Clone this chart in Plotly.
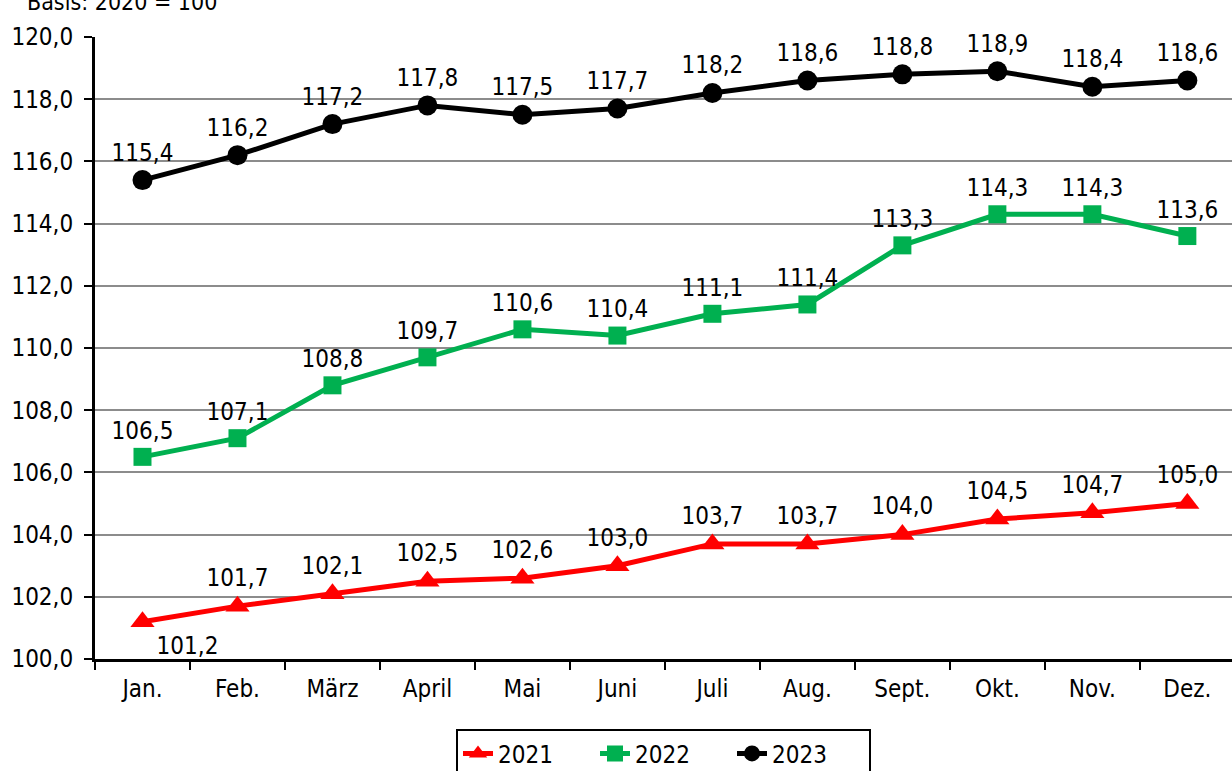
import plotly.graph_objects as go

months = ["Jan.", "Feb.", "März", "April", "Mai", "Juni", "Juli", "Aug.", "Sept.", "Okt.", "Nov.", "Dez."]
v2021 = [101.2, 101.7, 102.1, 102.5, 102.6, 103.0, 103.7, 103.7, 104.0, 104.5, 104.7, 105.0]
v2022 = [106.5, 107.1, 108.8, 109.7, 110.6, 110.4, 111.1, 111.4, 113.3, 114.3, 114.3, 113.6]
v2023 = [115.4, 116.2, 117.2, 117.8, 117.5, 117.7, 118.2, 118.6, 118.8, 118.9, 118.4, 118.6]

FONT = "DejaVu Sans Condensed, Noto Sans, sans-serif"
FS = 24

def fmt(v):
    return f"{v:.1f}".replace(".", ",")

fig = go.Figure()

pos2021 = ["bottom right"] + ["top center"] * 11
series = [
    ("2021", v2021, "#FF0000", "triangle-up", 21, pos2021),
    ("2022", v2022, "#00B050", "square", 18, "top center"),
    ("2023", v2023, "#000000", "circle", 20, "top center"),
]
for name, vals, color, sym, size, tpos in series:
    fig.add_trace(go.Scatter(
        x=months, y=vals, name=name, mode="lines+markers+text",
        line=dict(color=color, width=5),
        marker=dict(symbol=sym, size=size, color=color),
        text=[fmt(v) for v in vals], textposition=tpos,
        textfont=dict(size=FS, color="#000000", family=FONT),
        cliponaxis=False,
    ))

fig.update_layout(
    width=1232, height=771,
    margin=dict(l=95, r=0, t=37, b=112, autoexpand=False),
    plot_bgcolor="white", paper_bgcolor="white",
    separators=",.",
    font=dict(family=FONT, size=FS, color="#000000"),
    showlegend=True,
    legend=dict(
        orientation="h", x=0.5, xanchor="center", y=-0.113, yanchor="top",
        bordercolor="#000000", borderwidth=2,
        font=dict(size=FS, family=FONT),
        entrywidth=92, entrywidthmode="pixels",
    ),
    annotations=[dict(
        text="Basis: 2020 = 100", x=0, xref="paper", xanchor="left",
        xshift=-70, y=1, yref="paper", yshift=35, yanchor="middle",
        showarrow=False, font=dict(size=FS - 1, family=FONT),
    )],
)

fig.update_xaxes(
    type="category", range=[-0.5, 11.47],
    showline=True, linecolor="#000000", linewidth=3,
    ticks="outside", tickson="boundaries", ticklen=8, tickwidth=2, tickcolor="#000000",
    showgrid=False, tickfont=dict(size=FS), ticklabelstandoff=6,
)
fig.update_yaxes(
    range=[100, 120], dtick=2, tickformat=".1f",
    showline=True, linecolor="#000000", linewidth=3,
    ticks="outside", ticklen=8, tickwidth=2, tickcolor="#000000",
    showgrid=True, gridcolor="#8C8C8C", gridwidth=2,
    zeroline=False, tickfont=dict(size=FS), ticklabelstandoff=6,
)

fig.write_html("out.html")
